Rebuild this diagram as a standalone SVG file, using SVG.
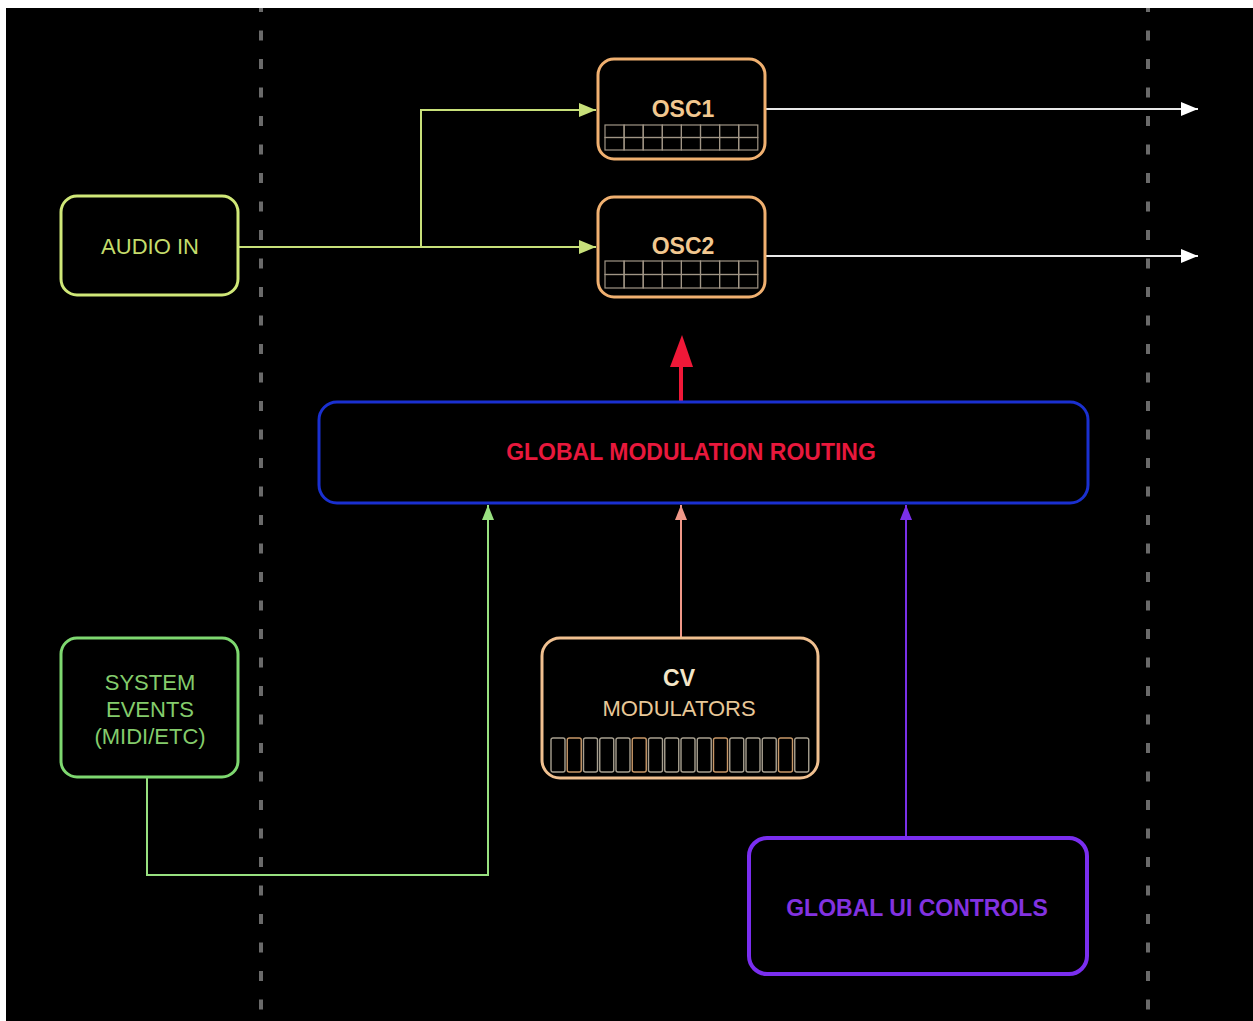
<svg xmlns="http://www.w3.org/2000/svg" width="1253" height="1021" viewBox="0 0 1253 1021">
<style>
text{font-family:"Liberation Sans",Arial,sans-serif;font-size:22px;text-anchor:middle}
.b{font-weight:bold;font-size:23px}
.node{fill:#000}
.dash{stroke:#6a6a6a;stroke-width:4;stroke-dasharray:10 18.5;stroke-dashoffset:6;fill:none}
.cell{fill:none;stroke:#a09585;stroke-width:1.2}
.cv{fill:none;stroke:#a8a090;stroke-width:1.4}
.cvt{fill:none;stroke:#c89868;stroke-width:1.4}
.c{fill:none;stroke-width:2}
</style>
<defs>
<marker id="aG" markerUnits="userSpaceOnUse" markerWidth="18" markerHeight="14" refX="17" refY="7" orient="auto"><path d="M0,0 L17,7 L0,14 z" fill="#c8e07a"/></marker>
<marker id="aW" markerUnits="userSpaceOnUse" markerWidth="18" markerHeight="14" refX="17" refY="7" orient="auto"><path d="M0,0 L17,7 L0,14 z" fill="#ffffff"/></marker>
<marker id="aL" markerUnits="userSpaceOnUse" markerWidth="16" markerHeight="12" refX="15" refY="6" orient="auto"><path d="M0,0 L15,6 L0,12 z" fill="#98e080"/></marker>
<marker id="aS" markerUnits="userSpaceOnUse" markerWidth="16" markerHeight="12" refX="15" refY="6" orient="auto"><path d="M0,0 L15,6 L0,12 z" fill="#f09888"/></marker>
<marker id="aP" markerUnits="userSpaceOnUse" markerWidth="16" markerHeight="12" refX="15" refY="6" orient="auto"><path d="M0,0 L15,6 L0,12 z" fill="#7a30e8"/></marker>
</defs>
<rect x="0" y="0" width="1253" height="1021" fill="#ffffff"/>
<rect x="6" y="8" width="1247" height="1013" fill="#000000"/>
<g id="guides">
<line class="dash" x1="261" y1="8" x2="261" y2="1021"/>
<line class="dash" x1="1148" y1="8" x2="1148" y2="1021"/>
</g>
<g id="connectors">
<polyline class="c" stroke="#c8e07a" points="238,247 596,247" marker-end="url(#aG)"/>
<polyline class="c" stroke="#c8e07a" points="421,247 421,110 596,110" marker-end="url(#aG)"/>
<polyline class="c" stroke="#e8e8e8" points="766,109 1198,109" marker-end="url(#aW)"/>
<polyline class="c" stroke="#e8e8e8" points="766,256 1198,256" marker-end="url(#aW)"/>
<line x1="681" y1="403" x2="681" y2="362" stroke="#f01838" stroke-width="4"/>
<path d="M682,335 L670,367 L693,367 z" fill="#f01838"/>
<polyline class="c" stroke="#98e080" points="147,778 147,875 488,875 488,505" marker-end="url(#aL)"/>
<polyline class="c" stroke="#f09888" points="681,637 681,505" marker-end="url(#aS)"/>
<polyline class="c" stroke="#7a30e8" points="906,837 906,505" marker-end="url(#aP)"/>
</g>
<g id="audio-in">
<rect class="node" x="61" y="196" width="177" height="99" rx="16" stroke="#d0e878" stroke-width="3"/>
<text x="150" y="254" fill="#c4dc6c">AUDIO IN</text>
</g>
<g id="osc1">
<rect class="node" x="598" y="59" width="167" height="100" rx="16" stroke="#f0b070" stroke-width="3"/>
<text class="b" x="683" y="117" fill="#f2c890">OSC1</text>
<g transform="translate(605,125)">
<rect class="cell" x="0" y="0" width="19.1" height="12.5"/><rect class="cell" x="19.1" y="0" width="19.1" height="12.5"/><rect class="cell" x="38.2" y="0" width="19.1" height="12.5"/><rect class="cell" x="57.3" y="0" width="19.1" height="12.5"/><rect class="cell" x="76.4" y="0" width="19.1" height="12.5"/><rect class="cell" x="95.5" y="0" width="19.1" height="12.5"/><rect class="cell" x="114.6" y="0" width="19.1" height="12.5"/><rect class="cell" x="133.7" y="0" width="19.1" height="12.5"/>
<rect class="cell" x="0" y="12.5" width="19.1" height="12.5"/><rect class="cell" x="19.1" y="12.5" width="19.1" height="12.5"/><rect class="cell" x="38.2" y="12.5" width="19.1" height="12.5"/><rect class="cell" x="57.3" y="12.5" width="19.1" height="12.5"/><rect class="cell" x="76.4" y="12.5" width="19.1" height="12.5"/><rect class="cell" x="95.5" y="12.5" width="19.1" height="12.5"/><rect class="cell" x="114.6" y="12.5" width="19.1" height="12.5"/><rect class="cell" x="133.7" y="12.5" width="19.1" height="12.5"/>
</g>
</g>
<g id="osc2">
<rect class="node" x="598" y="197" width="167" height="100" rx="16" stroke="#f0b070" stroke-width="3"/>
<text class="b" x="683" y="254" fill="#f2c890">OSC2</text>
<g transform="translate(605,261)">
<rect class="cell" x="0" y="0" width="19.1" height="13.5"/><rect class="cell" x="19.1" y="0" width="19.1" height="13.5"/><rect class="cell" x="38.2" y="0" width="19.1" height="13.5"/><rect class="cell" x="57.3" y="0" width="19.1" height="13.5"/><rect class="cell" x="76.4" y="0" width="19.1" height="13.5"/><rect class="cell" x="95.5" y="0" width="19.1" height="13.5"/><rect class="cell" x="114.6" y="0" width="19.1" height="13.5"/><rect class="cell" x="133.7" y="0" width="19.1" height="13.5"/>
<rect class="cell" x="0" y="13.5" width="19.1" height="13.5"/><rect class="cell" x="19.1" y="13.5" width="19.1" height="13.5"/><rect class="cell" x="38.2" y="13.5" width="19.1" height="13.5"/><rect class="cell" x="57.3" y="13.5" width="19.1" height="13.5"/><rect class="cell" x="76.4" y="13.5" width="19.1" height="13.5"/><rect class="cell" x="95.5" y="13.5" width="19.1" height="13.5"/><rect class="cell" x="114.6" y="13.5" width="19.1" height="13.5"/><rect class="cell" x="133.7" y="13.5" width="19.1" height="13.5"/>
</g>
</g>
<g id="global-modulation-routing">
<rect class="node" x="319" y="402" width="769" height="101" rx="18" stroke="#1a30d0" stroke-width="3"/>
<text class="b" x="691" y="460" fill="#e8183c">GLOBAL MODULATION ROUTING</text>
</g>
<g id="system-events">
<rect class="node" x="61" y="638" width="177" height="139" rx="16" stroke="#7ed870" stroke-width="3"/>
<text x="150" y="690" fill="#84cc6c">SYSTEM</text>
<text x="150" y="717" fill="#84cc6c">EVENTS</text>
<text x="150" y="744" fill="#84cc6c">(MIDI/ETC)</text>
</g>
<g id="cv-modulators">
<rect class="node" x="542" y="638" width="276" height="140" rx="18" stroke="#f0c090" stroke-width="3"/>
<text class="b" x="679" y="686" fill="#f4e6c8">CV</text>
<text x="679" y="716" fill="#e8c898">MODULATORS</text>
<g transform="translate(550,738)">
<rect class="cv" x="1" y="0" width="14" height="34" rx="2"/><rect class="cvt" x="17.25" y="0" width="14" height="34" rx="2"/><rect class="cv" x="33.5" y="0" width="14" height="34" rx="2"/><rect class="cv" x="49.75" y="0" width="14" height="34" rx="2"/><rect class="cv" x="66" y="0" width="14" height="34" rx="2"/><rect class="cvt" x="82.25" y="0" width="14" height="34" rx="2"/><rect class="cv" x="98.5" y="0" width="14" height="34" rx="2"/><rect class="cv" x="114.75" y="0" width="14" height="34" rx="2"/><rect class="cv" x="131" y="0" width="14" height="34" rx="2"/><rect class="cv" x="147.25" y="0" width="14" height="34" rx="2"/><rect class="cvt" x="163.5" y="0" width="14" height="34" rx="2"/><rect class="cv" x="179.75" y="0" width="14" height="34" rx="2"/><rect class="cv" x="196" y="0" width="14" height="34" rx="2"/><rect class="cv" x="212.25" y="0" width="14" height="34" rx="2"/><rect class="cvt" x="228.5" y="0" width="14" height="34" rx="2"/><rect class="cv" x="244.75" y="0" width="14" height="34" rx="2"/>
</g>
</g>
<g id="global-ui-controls">
<rect class="node" x="749" y="838" width="338" height="136" rx="18" stroke="#7a2ef0" stroke-width="4"/>
<text class="b" x="917" y="916" fill="#8232e0">GLOBAL UI CONTROLS</text>
</g>
</svg>
